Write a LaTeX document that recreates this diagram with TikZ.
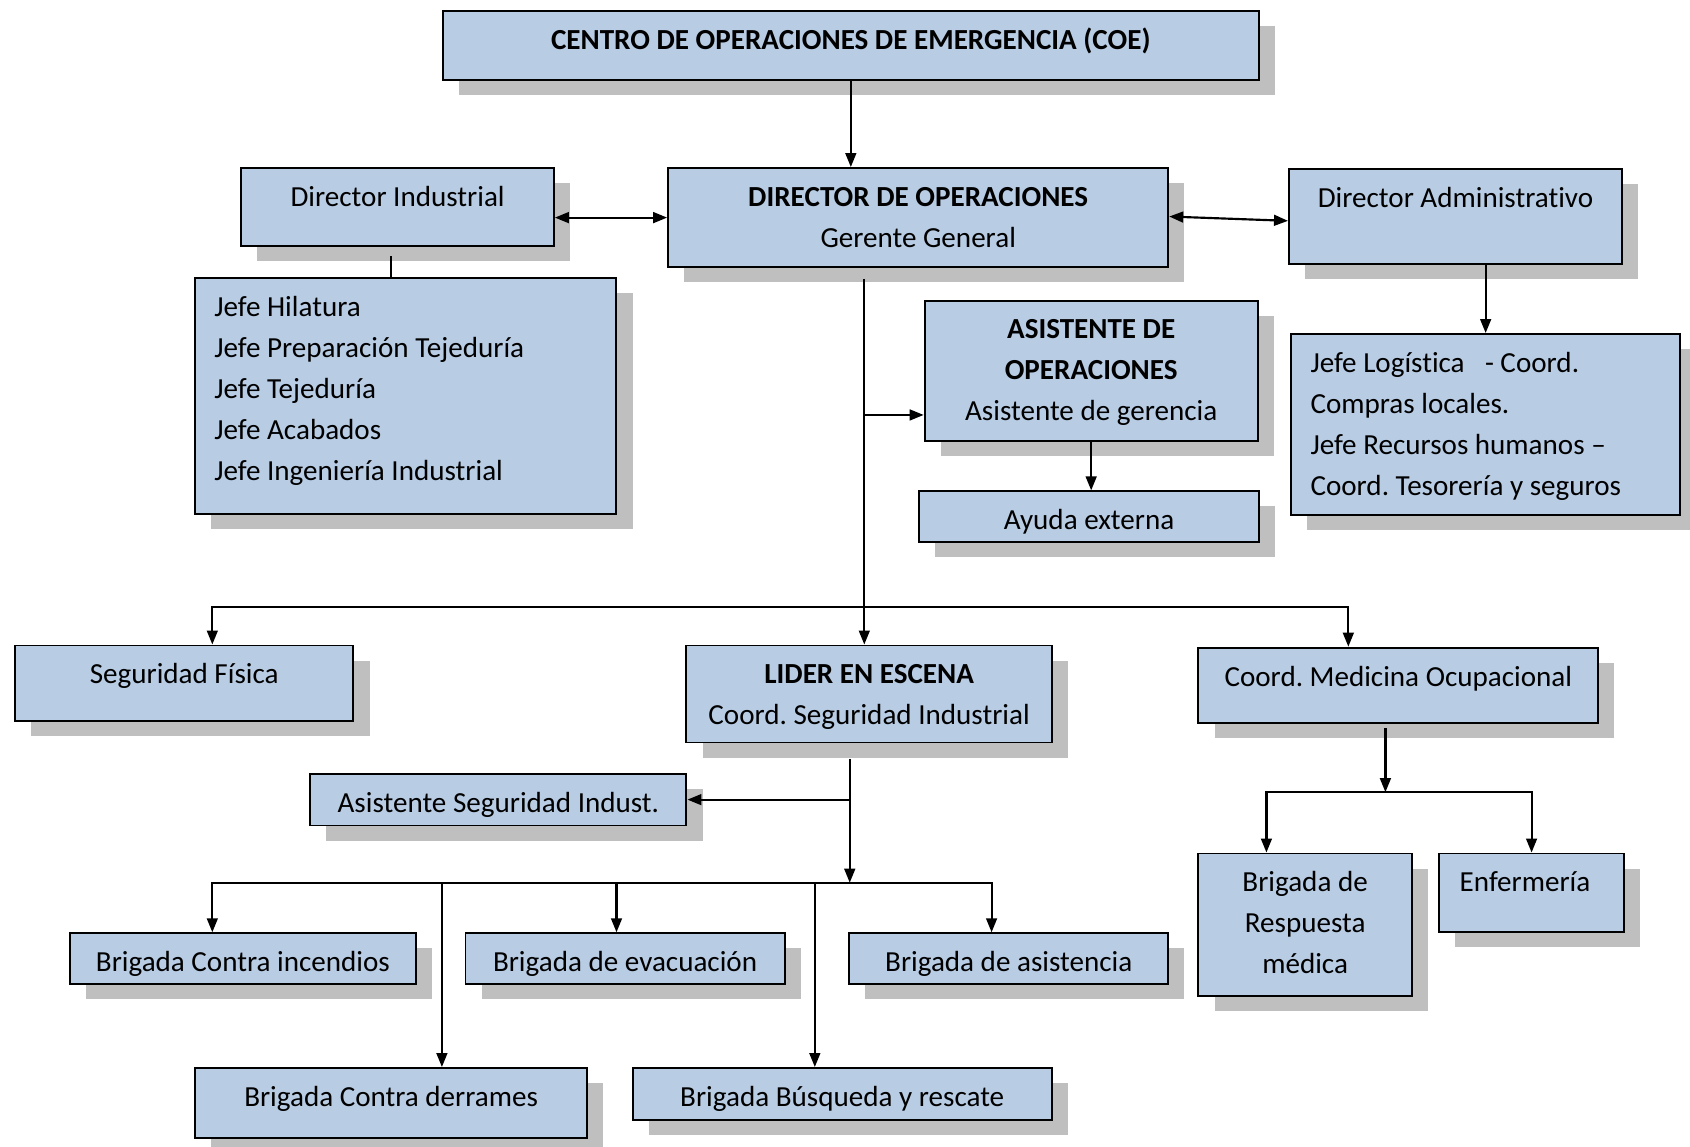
\documentclass[tikz,border=0pt]{standalone}
\usepackage{fontspec}
\setmainfont{Carlito}[Ligatures=NoCommon]
\usetikzlibrary{arrows.meta}
\usetikzlibrary{shadows}
\usetikzlibrary{calc}

\definecolor{azul}{HTML}{B8CCE4}
\definecolor{sombra}{HTML}{BFBFBF}

\frenchspacing
\newcommand{\centrado}[3]{\parbox[t][#2][t]{#1}{\centering\vspace*{4.5pt}\strut #3}}
\newcommand{\izquierda}[3]{\parbox[t][#2][t]{#1}{\leftskip=9pt\vspace*{4.5pt}\strut #3}}

\tikzset{
  caja/.style={draw, line width=0.9pt, fill=azul, inner sep=0pt, anchor=north west,
    font=\fontsize{13.5pt}{19pt}\selectfont,
    drop shadow={shadow xshift=7.5pt, shadow yshift=-7pt, fill=sombra, opacity=1}},
  flecha/.style={line width=1pt, -{Triangle[length=6.5pt,width=5pt]}},
  dobleflecha/.style={line width=1pt, {Triangle[length=6.5pt,width=5pt]}-{Triangle[length=6.5pt,width=5pt]}},
  linea/.style={line width=1pt}
}

\begin{document}
\begin{tikzpicture}[x=0.5pt,y=-0.5pt]
\useasboundingbox (0,0) rectangle (1568,1064);

% direccion
\node[caja] (coe) at (410,9) {\centrado{378.5pt}{32pt}{\textbf{CENTRO DE OPERACIONES DE EMERGENCIA (COE)}}};
\node[caja] (dirind) at (223,155) {\centrado{145pt}{36pt}{Director Industrial}};
\node[caja] (dirops) at (619,155) {\centrado{232pt}{46pt}{\textbf{DIRECTOR DE OPERACIONES}\\Gerente General}};
\node[caja] (diradm) at (1195,156) {\centrado{154.5pt}{44pt}{Director Administrativo}};

\node[caja] (jefes) at (180,257) {\izquierda{195.5pt}{109.5pt}{Jefe Hilatura\\Jefe Preparación Tejeduría\\Jefe Tejeduría\\Jefe Acabados\\Jefe Ingeniería Industrial}};
\node[caja] (asisops) at (857,278) {\centrado{154.5pt}{65pt}{\textbf{ASISTENTE DE}\\\textbf{OPERACIONES}\\Asistente de gerencia}};
\node[caja] (ayuda) at (852,455) {\centrado{157.5pt}{23.5pt}{Ayuda externa}};
\node[caja] (jefelog) at (1197,309) {\izquierda{180.5pt}{84pt}{Jefe Logística\hspace{0.7em}- Coord.\\Compras locales.\\Jefe Recursos humanos --\\Coord. Tesorería y seguros}};

% escena
\node[caja] (segfis) at (13,598) {\centrado{157pt}{35pt}{Seguridad Física}};
\node[caja] (lider) at (636,598) {\centrado{169.5pt}{45pt}{\textbf{LIDER EN ESCENA}\\Coord. Seguridad Industrial}};
\node[caja] (coordmed) at (1111,600) {\centrado{185.5pt}{35pt}{Coord. Medicina Ocupacional}};
\node[caja] (asisseg) at (287,717) {\centrado{174.5pt}{24pt}{Asistente Seguridad Indust.}};

% brigadas
\node[caja] (incendios) at (64,865) {\centrado{160.5pt}{23.5pt}{Brigada Contra incendios}};
\node[caja] (evacuacion) at (431,865) {\centrado{148pt}{23.5pt}{Brigada de evacuación}};
\node[caja] (asistencia) at (787,865) {\centrado{148pt}{23.5pt}{Brigada de asistencia}};
\node[caja] (derrames) at (180,990) {\centrado{182pt}{32.5pt}{Brigada Contra derrames}};
\node[caja] (busqueda) at (586,990) {\centrado{194.5pt}{24pt}{Brigada Búsqueda y rescate}};
\node[caja] (respmed) at (1111,791) {\centrado{99pt}{66pt}{Brigada de\\Respuesta\\médica}};
\node[caja] (enfermeria) at (1334,791) {\centrado{86pt}{36.5pt}{Enfermería\hspace*{6pt}}};

% conectores
\draw[flecha] (coe.south) -- (coe.south |- dirops.north);
\draw[dobleflecha] (dirops.west -| dirind.east) -- (dirops.west);
\draw[dobleflecha] ($(dirops.east)+(0,-1)$) -- ($(diradm.west)+(0,4)$);
\coordinate (dj) at ($(dirind.south)+(-6,9)$);
\draw[linea] (dj) -- (dj |- jefes.north);
\draw[flecha] (jefelog.north |- diradm.south) -- (jefelog.north);

\coordinate (tronco) at ($(dirops.south)+(-50,10)$);
\draw[flecha] (tronco) -- (tronco |- lider.north);
\coordinate (rama) at (tronco |- 0,385);
\draw[flecha] (rama) -- (rama -| asisops.west);
\draw[flecha] (asisops.south) -- (asisops.south |- ayuda.north);

\draw[dobleflecha] (197,563 |- segfis.north) -- (197,563) -- (1251,563) -- (1251,563 |- coordmed.north);

\coordinate (lbaja) at ($(lider.south)+(-18,14)$);
\coordinate (bus) at (lbaja |- 0,819);
\draw[flecha] (lbaja) -- (bus);
\draw[flecha] (lbaja |- asisseg.east) -- (asisseg.east);
\draw[dobleflecha] (197,819 |- incendios.north) -- (197,819) -- (920,819) -- (920,819 |- asistencia.north);
\foreach \x/\n in {410/derrames, 572/evacuacion, 756/busqueda}
  \draw[flecha] (\x,819) -- (\x,819 |- \n.north);

\coordinate (mbaja) at ($(coordmed.south)+(-12,4)$);
\draw[flecha] (mbaja) -- (mbaja |- 0,735);
\draw[dobleflecha] (1175,735 |- respmed.north) -- (1175,735) -- (1421,735) -- (1421,735 |- enfermeria.north);

\end{tikzpicture}
\end{document}
